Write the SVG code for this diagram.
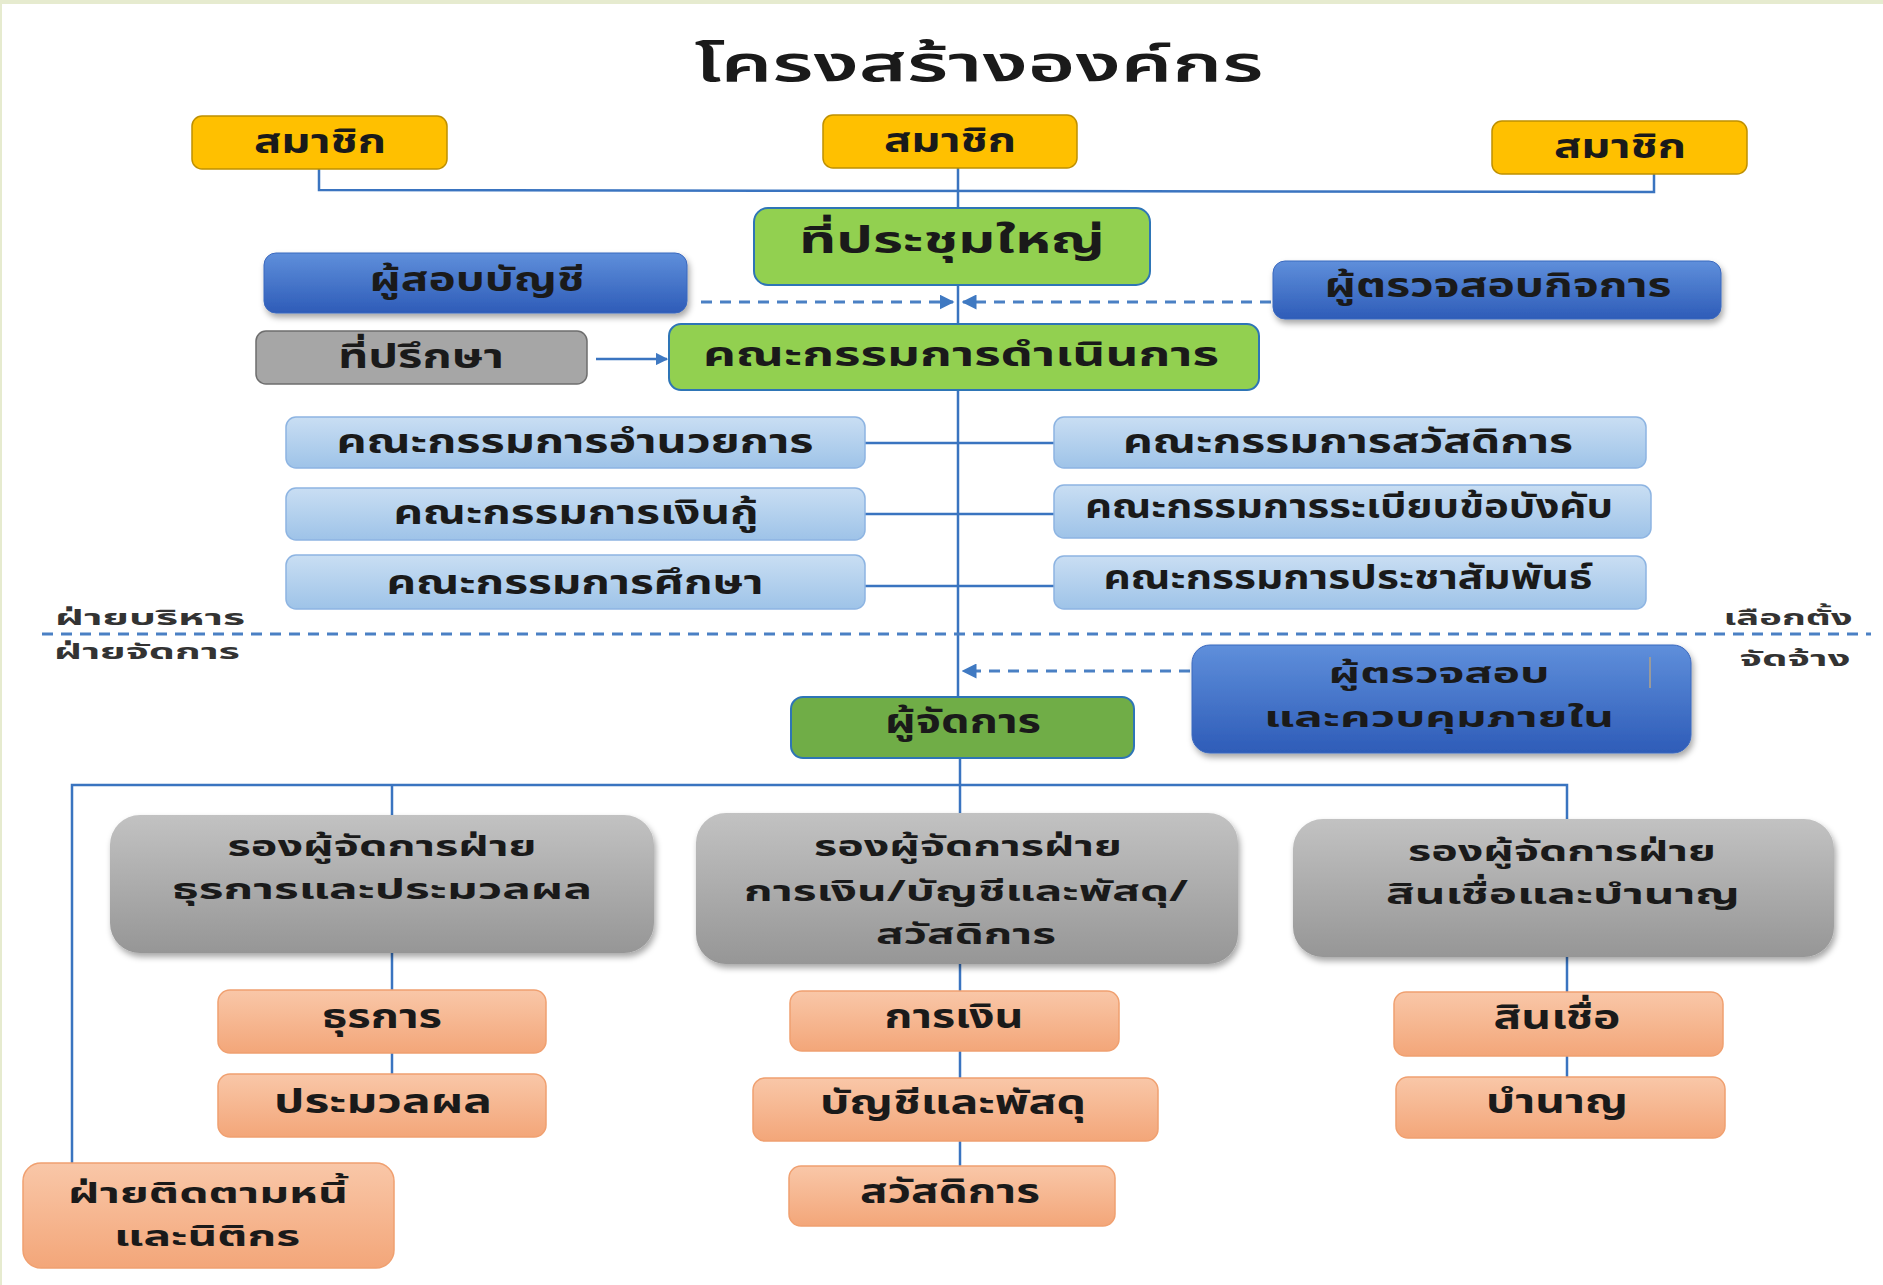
<svg xmlns="http://www.w3.org/2000/svg" width="1883" height="1285" viewBox="0 0 1883 1285">
<defs>
<linearGradient id="gBlue" x1="0" y1="0" x2="0" y2="1"><stop offset="0" stop-color="#5F8FDB"/><stop offset="1" stop-color="#2E5CB8"/></linearGradient>
<linearGradient id="gLight" x1="0" y1="0" x2="0" y2="1"><stop offset="0" stop-color="#C9DEF3"/><stop offset="1" stop-color="#9EC3E8"/></linearGradient>
<linearGradient id="gGray" x1="0" y1="0" x2="0" y2="1"><stop offset="0" stop-color="#C2C2C2"/><stop offset="1" stop-color="#969696"/></linearGradient>
<linearGradient id="gSalmon" x1="0" y1="0" x2="0" y2="1"><stop offset="0" stop-color="#F9C7A8"/><stop offset="1" stop-color="#F3A679"/></linearGradient>
<filter id="sh" x="-10%" y="-10%" width="125%" height="140%"><feDropShadow dx="2" dy="4" stdDeviation="3" flood-color="#000" flood-opacity="0.35"/></filter>
<marker id="arr" viewBox="0 0 10 10" refX="9" refY="5" markerWidth="5" markerHeight="5" orient="auto" markerUnits="strokeWidth"><path d="M0,0 L10,5 L0,10 z" fill="#3F79C2"/></marker>
<style>
.t{font-family:"Noto Sans Thai","Noto Sans","DejaVu Sans",sans-serif;font-weight:bold;fill:#1A1A1A;text-anchor:middle}
.lbl{font-family:"Noto Sans Thai","Noto Sans","DejaVu Sans",sans-serif;font-weight:bold;fill:#333;text-anchor:middle;font-size:22px}
.ttl{font-family:"Noto Sans Thai","Noto Sans","DejaVu Sans",sans-serif;font-weight:600;fill:#1A1A1A;text-anchor:middle;font-size:50px}
.f{font-size:33px}
.m{font-size:29px}
.yel{fill:#FFC000;stroke:#BF9000;stroke-width:1.5}
.grn{fill:#92D050;stroke:#2E75B6;stroke-width:2}
.dgrn{fill:#70AD47;stroke:#2E75B6;stroke-width:2}
.blu{fill:url(#gBlue);stroke:#3A68BE;stroke-width:1}
.lb{fill:url(#gLight);stroke:#8DB4E2;stroke-width:1.5}
.gry{fill:#A6A6A6;stroke:#6E6E6E;stroke-width:1.5}
.big{fill:url(#gGray);stroke:none}
.sal{fill:url(#gSalmon);stroke:#F0A070;stroke-width:1.5}
.ln{fill:none;stroke:#3A74C0;stroke-width:2.5}
.dash{fill:none;stroke:#4A80C4;stroke-width:3;stroke-dasharray:11 8}
</style>
</defs>
<rect x="0" y="0" width="1883" height="1285" fill="#FFFFFF"/>
<rect x="0" y="0" width="1883" height="4" fill="#E6EBCF"/>
<rect x="0" y="0" width="2" height="1285" fill="#E6EBCF"/>
<text class="ttl" x="979" y="81" textLength="569" lengthAdjust="spacingAndGlyphs">โครงสร้างองค์กร</text>

<g id="connectors">
<polyline class="ln" points="319,169 319,190 1654,192 1654,174"/>
<line class="ln" x1="958" y1="168" x2="958" y2="697"/>
<line class="ln" x1="960" y1="697" x2="960" y2="813"/>
<line class="dash" x1="701" y1="302" x2="953" y2="302" marker-end="url(#arr)"/>
<line class="dash" x1="1271" y1="302" x2="963" y2="302" marker-end="url(#arr)"/>
<line class="ln" x1="596" y1="359" x2="667" y2="359" marker-end="url(#arr)"/>
<line class="ln" x1="865" y1="443" x2="1054" y2="443"/>
<line class="ln" x1="865" y1="514" x2="1054" y2="514"/>
<line class="ln" x1="865" y1="586" x2="1054" y2="586"/>
<line class="dash" x1="42" y1="634" x2="1871" y2="634"/>
<line class="dash" x1="1190" y1="671" x2="963" y2="671" marker-end="url(#arr)"/>
<polyline class="ln" points="72,1165 72,785 1567,785 1567,820"/>
<line class="ln" x1="392" y1="785" x2="392" y2="815"/>
<line class="ln" x1="392" y1="953" x2="392" y2="990"/>
<line class="ln" x1="392" y1="1053" x2="392" y2="1074"/>
<line class="ln" x1="960" y1="964" x2="960" y2="991"/>
<line class="ln" x1="960" y1="1051" x2="960" y2="1078"/>
<line class="ln" x1="960" y1="1141" x2="960" y2="1166"/>
<line class="ln" x1="1567" y1="957" x2="1567" y2="992"/>
<line class="ln" x1="1567" y1="1056" x2="1567" y2="1077"/>
</g>

<g id="member-1"><rect class="yel" x="192" y="116" width="255" height="53" rx="10"/><text class="t f" x="320" y="153" textLength="132" lengthAdjust="spacingAndGlyphs">สมาชิก</text></g>
<g id="member-2"><rect class="yel" x="823" y="115" width="254" height="53" rx="10"/><text class="t f" x="950" y="152" textLength="132" lengthAdjust="spacingAndGlyphs">สมาชิก</text></g>
<g id="member-3"><rect class="yel" x="1492" y="121" width="255" height="53" rx="10"/><text class="t f" x="1620" y="158" textLength="132" lengthAdjust="spacingAndGlyphs">สมาชิก</text></g>

<g id="general-meeting"><rect class="grn" x="754" y="208" width="396" height="77" rx="14"/><text class="t" style="font-size:37px" x="952" y="253" textLength="306" lengthAdjust="spacingAndGlyphs">ที่ประชุมใหญ่</text></g>
<g id="auditor"><rect class="blu" filter="url(#sh)" x="264" y="253" width="423" height="60" rx="12"/><text class="t f" x="477" y="291" textLength="215" lengthAdjust="spacingAndGlyphs">ผู้สอบบัญชี</text></g>
<g id="inspector"><rect class="blu" filter="url(#sh)" x="1273" y="261" width="448" height="58" rx="12"/><text class="t f" x="1498" y="297" textLength="347" lengthAdjust="spacingAndGlyphs">ผู้ตรวจสอบกิจการ</text></g>
<g id="advisor"><rect class="gry" x="256" y="331" width="331" height="53" rx="10"/><text class="t f" x="421" y="368" textLength="166" lengthAdjust="spacingAndGlyphs">ที่ปรึกษา</text></g>
<g id="board"><rect class="grn" x="669" y="324" width="590" height="66" rx="12"/><text class="t" style="font-size:34px" x="961" y="366" textLength="516" lengthAdjust="spacingAndGlyphs">คณะกรรมการดำเนินการ</text></g>

<g id="c-admin"><rect class="lb" x="286" y="417" width="579" height="51" rx="10"/><text class="t f" x="575" y="453" textLength="477" lengthAdjust="spacingAndGlyphs">คณะกรรมการอำนวยการ</text></g>
<g id="c-loan"><rect class="lb" x="286" y="488" width="579" height="52" rx="10"/><text class="t f" x="576" y="524" textLength="365" lengthAdjust="spacingAndGlyphs">คณะกรรมการเงินกู้</text></g>
<g id="c-edu"><rect class="lb" x="286" y="555" width="579" height="54" rx="10"/><text class="t f" x="575" y="594" textLength="377" lengthAdjust="spacingAndGlyphs">คณะกรรมการศึกษา</text></g>
<g id="c-welfare"><rect class="lb" x="1054" y="417" width="592" height="51" rx="10"/><text class="t f" x="1348" y="453" textLength="450" lengthAdjust="spacingAndGlyphs">คณะกรรมการสวัสดิการ</text></g>
<g id="c-rules"><rect class="lb" x="1054" y="485" width="597" height="53" rx="10"/><text class="t f" x="1349" y="518" textLength="528" lengthAdjust="spacingAndGlyphs">คณะกรรมการระเบียบข้อบังคับ</text></g>
<g id="c-pr"><rect class="lb" x="1054" y="556" width="592" height="53" rx="10"/><text class="t f" x="1348" y="589" textLength="489" lengthAdjust="spacingAndGlyphs">คณะกรรมการประชาสัมพันธ์</text></g>

<g id="labels">
<text class="lbl" x="150" y="625" textLength="190" lengthAdjust="spacingAndGlyphs">ฝ่ายบริหาร</text>
<text class="lbl" x="147" y="659" textLength="186" lengthAdjust="spacingAndGlyphs">ฝ่ายจัดการ</text>
<text class="lbl" x="1788" y="625" textLength="129" lengthAdjust="spacingAndGlyphs">เลือกตั้ง</text>
<text class="lbl" x="1795" y="666" textLength="111" lengthAdjust="spacingAndGlyphs">จัดจ้าง</text>
</g>

<g id="internal-audit"><rect class="blu" filter="url(#sh)" x="1192" y="645" width="499" height="108" rx="18"/><line x1="1650" y1="657" x2="1650" y2="688" stroke="#9A9A9A" stroke-width="2"/><text class="t m" x="1439" y="683" textLength="221" lengthAdjust="spacingAndGlyphs">ผู้ตรวจสอบ</text><text class="t m" x="1439" y="727" textLength="350" lengthAdjust="spacingAndGlyphs">และควบคุมภายใน</text></g>
<g id="manager"><rect class="dgrn" x="791" y="697" width="343" height="61" rx="12"/><text class="t f" x="963" y="733" textLength="156" lengthAdjust="spacingAndGlyphs">ผู้จัดการ</text></g>

<g id="dep-admin"><rect class="big" filter="url(#sh)" x="110" y="815" width="544" height="138" rx="30"/><text class="t m" x="382" y="856" textLength="309" lengthAdjust="spacingAndGlyphs">รองผู้จัดการฝ่าย</text><text class="t m" x="382" y="899" textLength="420" lengthAdjust="spacingAndGlyphs">ธุรการและประมวลผล</text></g>
<g id="dep-finance"><rect class="big" filter="url(#sh)" x="696" y="813" width="542" height="151" rx="30"/><text class="t m" x="968" y="856" textLength="308" lengthAdjust="spacingAndGlyphs">รองผู้จัดการฝ่าย</text><text class="t m" x="966" y="901" textLength="444" lengthAdjust="spacingAndGlyphs">การเงิน/บัญชีและพัสดุ/</text><text class="t m" x="966" y="944" textLength="180" lengthAdjust="spacingAndGlyphs">สวัสดิการ</text></g>
<g id="dep-credit"><rect class="big" filter="url(#sh)" x="1293" y="819" width="541" height="138" rx="30"/><text class="t m" x="1562" y="861" textLength="308" lengthAdjust="spacingAndGlyphs">รองผู้จัดการฝ่าย</text><text class="t m" x="1563" y="904" textLength="354" lengthAdjust="spacingAndGlyphs">สินเชื่อและบำนาญ</text></g>

<g id="u-general"><rect class="sal" x="218" y="990" width="328" height="63" rx="12"/><text class="t f" x="382" y="1028" textLength="120" lengthAdjust="spacingAndGlyphs">ธุรการ</text></g>
<g id="u-processing"><rect class="sal" x="218" y="1074" width="328" height="63" rx="12"/><text class="t f" x="383" y="1113" textLength="218" lengthAdjust="spacingAndGlyphs">ประมวลผล</text></g>
<g id="u-finance"><rect class="sal" x="790" y="991" width="329" height="60" rx="12"/><text class="t f" x="954" y="1028" textLength="139" lengthAdjust="spacingAndGlyphs">การเงิน</text></g>
<g id="u-accounting"><rect class="sal" x="753" y="1078" width="405" height="63" rx="12"/><text class="t f" x="953" y="1114" textLength="266" lengthAdjust="spacingAndGlyphs">บัญชีและพัสดุ</text></g>
<g id="u-welfare"><rect class="sal" x="789" y="1166" width="326" height="60" rx="12"/><text class="t f" x="950" y="1203" textLength="180" lengthAdjust="spacingAndGlyphs">สวัสดิการ</text></g>
<g id="u-credit"><rect class="sal" x="1394" y="992" width="329" height="64" rx="12"/><text class="t f" x="1557" y="1029" textLength="127" lengthAdjust="spacingAndGlyphs">สินเชื่อ</text></g>
<g id="u-pension"><rect class="sal" x="1396" y="1077" width="329" height="61" rx="12"/><text class="t f" x="1557" y="1113" textLength="142" lengthAdjust="spacingAndGlyphs">บำนาญ</text></g>
<g id="u-debt"><rect class="sal" x="23" y="1163" width="371" height="105" rx="18"/><text class="t m" x="208" y="1203" textLength="280" lengthAdjust="spacingAndGlyphs">ฝ่ายติดตามหนี้</text><text class="t m" x="207" y="1246" textLength="186" lengthAdjust="spacingAndGlyphs">และนิติกร</text></g>
</svg>
